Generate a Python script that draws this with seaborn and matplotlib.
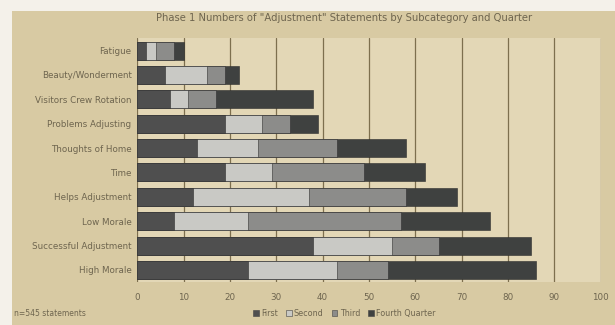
import pandas as pd
import matplotlib.pyplot as plt
import seaborn as sns
from matplotlib.patches import Patch, Rectangle

sns.set_theme(style="white")

# data
subcats = ["Fatigue", "Beauty/Wonderment", "Visitors Crew Rotation", "Problems Adjusting",
           "Thoughts of Home", "Time", "Helps Adjustment", "Low Morale",
           "Successful Adjustment", "High Morale"]
first = [2, 6, 7, 19, 13, 19, 12, 8, 38, 24]
second = [2, 9, 4, 8, 13, 10, 25, 16, 17, 19]
third = [4, 4, 6, 6, 17, 20, 21, 33, 10, 11]
fourth = [2, 3, 21, 6, 15, 13, 11, 19, 20, 32]
quarters = ["First", "Second", "Third", "Fourth Quarter"]
colors = ["#4f4f4f", "#c9c9c5", "#8c8c8a", "#3f4140"]

df = pd.DataFrame({"Subcategory": subcats, "First": first, "Second": second,
                   "Third": third, "Fourth Quarter": fourth})
cum = df[quarters].cumsum(axis=1)

text_col = "#6e654f"
fig = plt.figure(figsize=(6.15, 3.25), dpi=100, facecolor="#d8caa3")
# white strip on left like the scanned page
fig.patches.append(Rectangle((0, 0), 0.02, 1, transform=fig.transFigure,
                             facecolor="#f4f1ea", edgecolor="none", zorder=0))
fig.patches.append(Rectangle((0, 0.965), 1, 0.035, transform=fig.transFigure,
                             facecolor="#f4f1ea", edgecolor="none", zorder=0))

ax = fig.add_axes([0.223, 0.132, 0.754, 0.75])
ax.set_facecolor("#e3d7b6")

# stacked bars: draw cumulative totals from the back
for q, c in zip(quarters[::-1], colors[::-1]):
    sns.barplot(x=cum[q], y=df["Subcategory"], color=c, width=0.74,
                saturation=1, ax=ax, zorder=3, edgecolor="#2e2e2e", linewidth=0.4)

ax.set_xlim(0, 100)
ax.set_xticks(range(0, 101, 10))
ax.xaxis.grid(True, color="#7d6f4e", linewidth=0.9, zorder=1)
ax.set_axisbelow(True)
for s in ax.spines.values():
    s.set_visible(False)
ax.set_xlabel("")
ax.set_ylabel("")
ax.tick_params(axis="both", length=0, labelsize=6.3, colors=text_col, pad=4)
ax.tick_params(axis="x", pad=8)

fig.text(0.56, 0.945, 'Phase 1 Numbers of "Adjustment" Statements by Subcategory and Quarter',
         ha="center", va="center", fontsize=7.2, color=text_col)
fig.text(0.022, 0.035, "n=545 statements", ha="left", va="center", fontsize=5.5, color=text_col)

handles = [Patch(facecolor=c, edgecolor="#444444", linewidth=0.4) for c in colors]
fig.legend(handles, quarters, loc="center", bbox_to_anchor=(0.56, 0.035), ncol=4,
           frameon=False, fontsize=5.8, labelcolor=text_col, handlelength=0.7,
           handleheight=0.7, handletextpad=0.3, columnspacing=1.0)

fig.savefig("out.png", dpi=100, facecolor=fig.get_facecolor())
